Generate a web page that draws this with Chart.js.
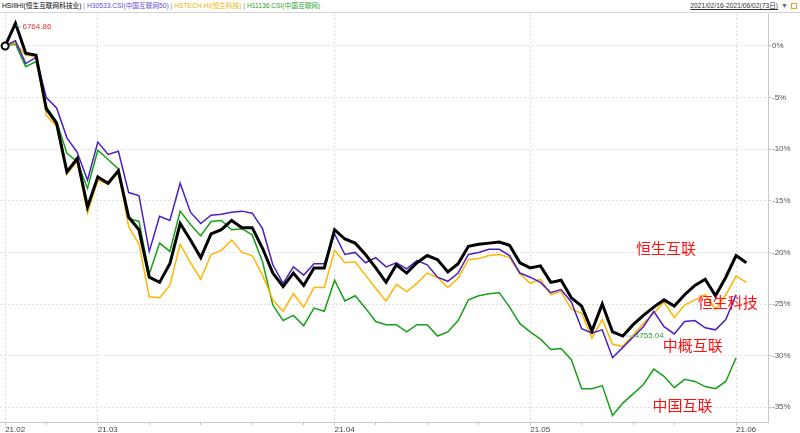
<!DOCTYPE html>
<html lang="zh">
<head>
<meta charset="UTF-8">
<title>HSIIIHI 走势对比</title>
<script src="https://cdn.jsdelivr.net/npm/chart.js@4.4.1/dist/chart.umd.min.js"></script>
<style>
  body { margin: 0; background: #fff; width: 800px; height: 433px; overflow: hidden; position: relative;
         font-family: "Liberation Sans", "Noto Sans CJK SC", sans-serif; }
  #head { position: absolute; left: 0; top: 0; width: 800px; height: 12px; border-bottom: 1px solid #d4d4d4;
          font-size: 6.7px; line-height: 12px; white-space: nowrap; }
  #legend { position: absolute; left: 2px; top: 0; }
  #legend .sep { color: #7a8aa0; }
  #range { position: absolute; right: 3px; top: 0; color: #333; }
  #range u { text-decoration: underline; }
  #range .dd { color: #666; font-size: 7px; margin-left: 3px; }
  #range .ic { display: inline-block; width: 4px; height: 4px; border: 1px solid #f0a020; margin-left: 3px; vertical-align: -1px; }
  #wrap { position: absolute; left: 0; top: 14px; }
</style>
</head>
<body>
<div id="head">
  <div id="legend">
    <span style="color:#000">HSIIIHI(恒生互联网科技业)</span><span class="sep"> | </span><span style="color:#6a4cd2">H30533.CSI(中国互联网50)</span><span class="sep"> | </span><span style="color:#f2b000">HSTECH.HI(恒生科技)</span><span class="sep"> | </span><span style="color:#2aa52a">H11136.CSI(中国互联网)</span>
  </div>
  <div id="range"><u>2021/02/16-2021/06/02(73日)</u><span class="dd">▼</span><span class="ic"></span></div>
</div>
<div id="wrap"><canvas id="myChart" width="800" height="419"></canvas></div>
<script>
// trading days 2021/02/16 - 2021/06/02
const dates = [
  '2021-02-16','2021-02-17','2021-02-18','2021-02-19','2021-02-22','2021-02-23','2021-02-24','2021-02-25','2021-02-26',
  '2021-03-01','2021-03-02','2021-03-03','2021-03-04','2021-03-05','2021-03-08','2021-03-09','2021-03-10','2021-03-11',
  '2021-03-12','2021-03-15','2021-03-16','2021-03-17','2021-03-18','2021-03-19','2021-03-22','2021-03-23','2021-03-24',
  '2021-03-25','2021-03-26','2021-03-29','2021-03-30','2021-03-31',
  '2021-04-01','2021-04-07','2021-04-08','2021-04-09','2021-04-12','2021-04-13','2021-04-14','2021-04-15','2021-04-16',
  '2021-04-19','2021-04-20','2021-04-21','2021-04-22','2021-04-23','2021-04-26','2021-04-27','2021-04-28','2021-04-29',
  '2021-04-30',
  '2021-05-03','2021-05-04','2021-05-05','2021-05-06','2021-05-07','2021-05-10','2021-05-11','2021-05-12','2021-05-13',
  '2021-05-14','2021-05-17','2021-05-18','2021-05-20','2021-05-21','2021-05-24','2021-05-25','2021-05-26','2021-05-27',
  '2021-05-28','2021-05-31',
  '2021-06-01','2021-06-02'
];

// % change since 2021/02/16
const hsiii = [
  0, 2.2, -0.7, -0.9, -6.1, -7.5, -12.2, -10.9, -15.6, -12.7,
  -13.3, -12.1, -16.6, -17.8, -22.4, -22.9, -21.1, -17.2, -18.8, -20.5,
  -18.2, -17.8, -16.9, -17.6, -17.6, -19.6, -22.0, -23.3, -22.0, -23.2,
  -21.5, -21.5, -17.8, -18.7, -19.1, -20.2, -21.5, -22.9, -21.2, -22.0,
  -21.0, -20.3, -20.7, -21.9, -21.1, -19.4, -19.2, -19.1, -19.0, -19.3,
  -21.0, -21.5, -21.3, -22.9, -22.7, -24.4, -25.2, -27.6, -25.0, -27.7,
  -28.1, -27.0, -26.1, -25.3, -24.6, -25.2, -24.1, -23.2, -22.6, -24.2,
  -22.4, -20.3, -21.0
];
const csi50 = [
  0, 0.5, -1.7, -1.1, -5.0, -6.0, -8.9, -10.3, -13.0, -9.3,
  -10.5, -10.2, -14.2, -14.5, -19.9, -16.5, -16.9, -13.3, -16.1, -17.2,
  -16.4, -16.3, -16.1, -16.0, -16.2, -17.7, -21.2, -23.0, -21.4, -22.2,
  -21.1, -21.1, -18.2, -20.2, -20.0, -21.0, -20.5, -21.4, -21.0, -21.6,
  -20.8, -21.2, -22.4, -22.8, -22.0, -20.2, -20.0, -19.7, -19.7, -20.3,
  -22.0, -22.4, -22.9, -23.9, -23.6, -24.8, -27.4, -27.8, -27.5, -30.2,
  -29.2, -28.2, -27.2, -25.7, -27.2, -27.9, -26.7, -26.6, -27.3, -27.5,
  -26.5, -24.1, null
];
const hstech = [
  0, 0.3, -0.9, -1.0, -6.7, -7.8, -12.4, -11.2, -16.2, -13.0,
  -13.4, -12.2, -17.5, -19.2, -24.3, -24.4, -23.2, -19.2, -21.0, -22.6,
  -20.2, -19.8, -18.8, -20.0, -20.3, -22.2, -24.6, -25.7, -24.0, -25.3,
  -23.4, -23.4, -19.8, -21.0, -20.9, -22.2, -23.5, -24.7, -23.1, -23.8,
  -23.0, -22.0, -22.4, -23.4, -22.5, -20.7, -20.6, -20.3, -20.2, -20.5,
  -22.1, -23.0, -22.6, -24.1, -23.8, -25.5, -25.9, -28.3, -26.5, -28.9,
  -29.1, -28.0, -26.9, -25.9, -24.8, -26.3, -25.1, -24.6, -24.1, -25.5,
  -24.1, -22.3, -22.9
];
const csiNet = [
  0, 0.2, -2.0, -1.5, -5.9, -7.3, -10.4, -11.2, -13.8, -10.1,
  -11.0, -11.9, -16.7, -17.0, -22.1, -19.1, -19.9, -16.0, -17.3, -18.4,
  -17.0, -16.9, -17.8, -17.7, -18.3, -20.9, -25.1, -26.6, -26.1, -27.1,
  -25.4, -25.7, -22.7, -24.7, -24.2, -25.4, -26.7, -27.0, -27.0, -27.7,
  -27.0, -27.0, -28.1, -27.7, -26.6, -24.6, -24.2, -24.0, -23.9, -25.3,
  -26.9, -27.7, -28.4, -29.4, -29.3, -30.4, -33.2, -33.2, -32.9, -35.8,
  -34.6, -33.7, -32.8, -31.3, -32.0, -33.1, -32.3, -32.5, -33.0, -33.2,
  -32.5, -30.2, null
];

const hsiiiHigh = '6764.86';
const hsiiiLow = '4755.04';
const yTicks = [0, -5, -10, -15, -20, -25, -30, -35];

// red notes on the right, placed in data units (day index, %)
const notes = [
  { text: '恒生互联', at: 64.2, pct: -19.6 },
  { text: '恒生科技', at: 70.2, pct: -24.8 },
  { text: '中概互联', at: 66.8, pct: -29.0 },
  { text: '中国互联', at: 65.8, pct: -34.8 }
];

// month starts get a label + grid line, mondays get a small tick
const monthIdx = dates.map((d, i) => i).filter(i => i === 0 || dates[i].slice(5, 7) !== dates[i - 1].slice(5, 7));
const xTicks = dates.map((d, i) => i).filter(i => {
  if (monthIdx.includes(i)) return true;
  const wd = new Date(dates[i] + 'T00:00:00').getDay();
  return wd === 1 && !monthIdx.some(m => Math.abs(m - i) <= 2);
});

const toPts = arr => arr.map((v, i) => ({ x: i, y: v }));

// no extra room around the plot for half labels
const noPad = s => { s.paddingLeft = 0; s.paddingRight = 0; s.paddingTop = 0; s.paddingBottom = 0; };

const markPlugin = {
  id: 'marks',
  afterDatasetsDraw(chart) {
    const { ctx, scales: { x, y } } = chart;
    ctx.save();
    // high / low of HSIIIHI
    const vals = hsiii;
    const hi = vals.indexOf(Math.max(...vals));
    const lo = vals.indexOf(Math.min(...vals));
    ctx.font = '8px "Liberation Sans", sans-serif';
    ctx.textBaseline = 'middle';
    ctx.lineWidth = 1;
    ctx.strokeStyle = '#7fd0e8';
    let px = x.getPixelForValue(hi), py = y.getPixelForValue(vals[hi]);
    ctx.beginPath(); ctx.moveTo(px + 1, py + 2); ctx.lineTo(px + 6, py + 4); ctx.stroke();
    ctx.fillStyle = '#e83030';
    ctx.fillText(hsiiiHigh, px + 7, py + 4);
    px = x.getPixelForValue(lo); py = y.getPixelForValue(vals[lo]);
    ctx.beginPath(); ctx.moveTo(px + 3, py); ctx.lineTo(px + 11, py); ctx.stroke();
    ctx.fillStyle = '#2a9a2a';
    ctx.fillText(hsiiiLow, px + 12, py);
    // annotations
    ctx.font = '15px "Noto Sans CJK SC", sans-serif';
    ctx.fillStyle = '#ff1010';
    ctx.textAlign = 'center';
    notes.forEach(n => ctx.fillText(n.text, x.getPixelForValue(n.at), y.getPixelForValue(n.pct)));
    ctx.restore();
  }
};

const ctx = document.getElementById('myChart').getContext('2d');
new Chart(ctx, {
  type: 'line',
  data: {
    datasets: [
      { label: 'HSIIIHI', data: toPts(hsiii), borderColor: '#000', borderWidth: 3,
        pointRadius: c => c.dataIndex === 0 ? 3.5 : 0, pointBackgroundColor: '#fff', pointBorderColor: '#000', pointBorderWidth: 2 },
      { label: 'H30533.CSI', data: toPts(csi50), borderColor: '#4d1fc0', borderWidth: 1.5, pointRadius: 0 },
      { label: 'HSTECH.HI', data: toPts(hstech), borderColor: '#ffb400', borderWidth: 1.5, pointRadius: 0 },
      { label: 'H11136.CSI', data: toPts(csiNet), borderColor: '#16a016', borderWidth: 1.5, pointRadius: 0 }
    ]
  },
  options: {
    responsive: false,
    animation: false,
    layout: { padding: 0, autoPadding: false },
    elements: { line: { tension: 0 } },
    plugins: { legend: { display: false }, tooltip: { enabled: false } },
    scales: {
      x: {
        type: 'linear', min: -0.5, max: 74.1,
        afterBuildTicks: s => { s.ticks = xTicks.map(v => ({ value: v })); },
        afterFit: s => { s.height = 11; noPad(s); },
        ticks: {
          autoSkip: false, maxRotation: 0, align: 'start', padding: 0,
          font: { size: 8, family: '"Liberation Sans", sans-serif' }, color: '#444',
          callback: v => monthIdx.includes(v) ? dates[v].slice(2, 4) + '.' + dates[v].slice(5, 7) : ''
        },
        grid: {
          color: c => (c.tick && monthIdx.includes(c.tick.value)) ? '#e0e0e0' : 'rgba(0,0,0,0)',
          tickColor: '#c4c4c4', tickLength: 3
        },
        border: { color: '#c8c8c8', dash: [2, 2] }
      },
      y: {
        position: 'right', min: -36.43, max: 3.1,
        afterBuildTicks: s => { s.ticks = yTicks.map(v => ({ value: v })); },
        afterFit: s => { s.width = 32; noPad(s); },
        ticks: { font: { size: 8, family: '"Liberation Sans", sans-serif' }, color: '#555', padding: 1, callback: v => v + '%' },
        grid: { color: '#e0e0e0', tickColor: '#c4c4c4', tickLength: 3 },
        border: { color: '#c8c8c8', dash: [2, 2] }
      }
    }
  },
  plugins: [markPlugin]
});
</script>
</body>
</html>
